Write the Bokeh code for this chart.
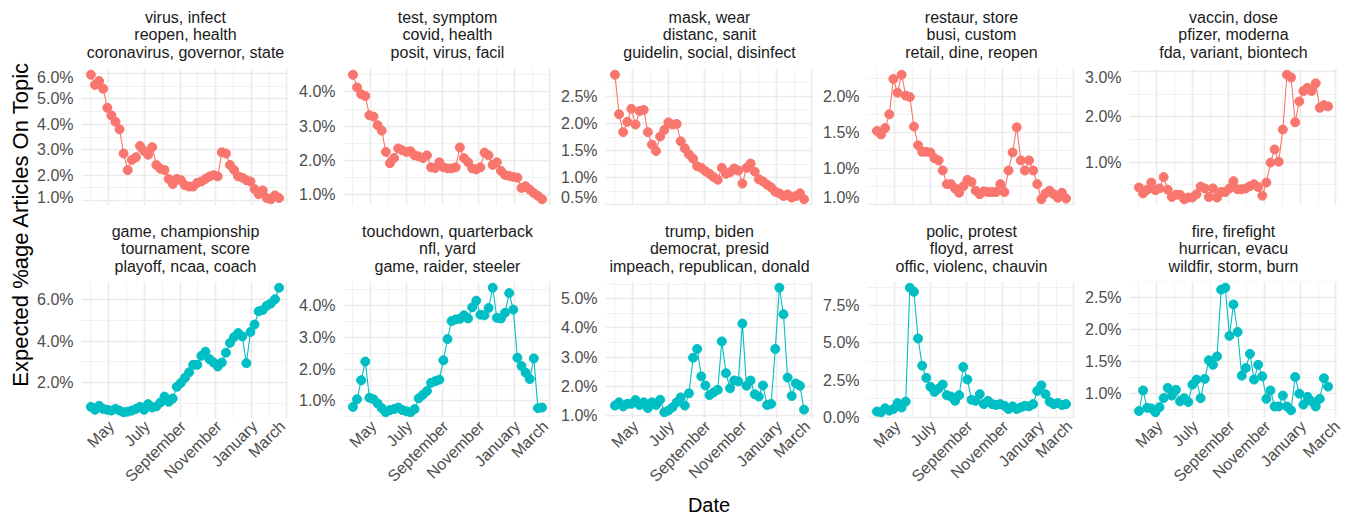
import pandas as pd
from math import pi
from bokeh.plotting import figure
from bokeh.layouts import row, column
from bokeh.models import ColumnDataSource, Range1d, FixedTicker, CustomJSTickFormatter, Label
from bokeh.embed import file_html
from bokeh.resources import INLINE

FONT = "Liberation Sans"
RED = "#F8766D"
TEAL = "#00BFC4"

# ---------------- data ----------------
start_date = "2020-04-01"
n_weeks = 47

titles = [
    ["virus, infect", "reopen, health", "coronavirus, governor, state"],
    ["test, symptom", "covid, health", "posit, virus, facil"],
    ["mask, wear", "distanc, sanit", "guidelin, social, disinfect"],
    ["restaur, store", "busi, custom", "retail, dine, reopen"],
    ["vaccin, dose", "pfizer, moderna", "fda, variant, biontech"],
    ["game, championship", "tournament, score", "playoff, ncaa, coach"],
    ["touchdown, quarterback", "nfl, yard", "game, raider, steeler"],
    ["trump, biden", "democrat, presid", "impeach, republican, donald"],
    ["polic, protest", "floyd, arrest", "offic, violenc, chauvin"],
    ["fire, firefight", "hurrican, evacu", "wildfir, storm, burn"],
]

virus = [5.95,5.55,5.70,5.40,4.65,4.35,4.10,3.80,2.85,2.20,2.60,2.70,3.15,2.95,2.80,3.10,2.40,2.25,2.20,1.85,
         1.65,1.85,1.80,1.60,1.55,1.55,1.70,1.75,1.85,1.95,2.00,1.95,2.90,2.85,2.40,2.20,1.95,1.90,1.80,1.75,
         1.45,1.25,1.40,1.10,1.05,1.20,1.10]
test = [4.50,4.13,3.93,3.88,3.32,3.28,3.03,2.87,2.25,1.92,2.07,2.35,2.30,2.25,2.27,2.15,2.12,2.07,2.15,1.80,
        1.78,1.95,1.80,1.77,1.77,1.80,2.38,2.07,1.95,1.77,1.74,1.80,2.23,2.15,1.87,1.95,1.70,1.58,1.55,1.52,
        1.50,1.20,1.25,1.15,1.05,0.97,0.87]
mask = [2.90,2.17,1.84,2.03,2.27,1.98,2.23,2.25,1.84,1.61,1.49,1.76,1.88,2.02,1.98,1.99,1.67,1.54,1.43,1.35,
        1.21,1.18,1.12,1.07,1.01,0.96,1.18,1.07,1.10,1.17,1.13,0.89,1.18,1.26,1.11,0.97,0.93,0.87,0.82,0.74,
        0.71,0.66,0.69,0.63,0.66,0.71,0.60]
restaur = [1.52,1.47,1.56,1.75,2.24,2.05,2.30,2.01,1.99,1.58,1.32,1.23,1.23,1.22,1.14,1.11,0.97,0.78,0.78,0.72,
           0.66,0.75,0.84,0.81,0.69,0.64,0.68,0.67,0.67,0.67,0.78,0.67,0.97,1.22,1.57,1.11,0.97,1.11,0.97,0.78,
           0.57,0.65,0.69,0.64,0.59,0.66,0.58]
vaccin = [0.44,0.31,0.39,0.55,0.38,0.42,0.67,0.39,0.23,0.28,0.28,0.18,0.22,0.22,0.29,0.46,0.42,0.23,0.42,0.22,
          0.34,0.34,0.42,0.58,0.40,0.40,0.42,0.47,0.51,0.45,0.26,0.55,0.99,1.28,1.01,1.72,2.93,2.87,1.88,2.34,
          2.57,2.64,2.57,2.74,2.20,2.26,2.23]
game = [0.85,0.71,0.90,0.75,0.71,0.67,0.75,0.67,0.59,0.62,0.67,0.75,0.85,0.71,0.98,0.82,0.87,1.06,1.34,1.09,
        1.25,1.81,2.00,2.24,2.50,2.86,2.86,3.29,3.49,3.13,2.97,2.78,2.97,3.44,3.91,4.19,4.38,4.22,2.94,4.43,
        4.79,5.42,5.48,5.69,5.80,6.00,6.55]
touchdown = [0.81,1.05,1.65,2.24,1.10,1.05,0.92,0.77,0.64,0.71,0.74,0.79,0.71,0.67,0.64,0.74,1.08,1.19,1.31,1.57,
             1.62,1.67,2.28,2.95,3.52,3.57,3.59,3.70,3.60,3.95,4.16,3.72,3.70,3.93,4.57,3.62,3.60,3.78,4.40,3.88,
             2.36,2.10,1.89,1.69,2.34,0.77,0.79]
trump = [1.34,1.45,1.31,1.40,1.40,1.53,1.36,1.45,1.25,1.45,1.36,1.54,1.11,1.17,1.28,1.45,1.62,1.34,1.76,2.98,
         3.28,2.34,2.03,1.70,1.79,1.88,3.54,2.45,1.93,2.20,2.17,4.15,2.02,2.20,1.73,1.65,2.03,1.36,1.40,3.28,
         5.38,4.47,2.30,1.67,2.10,2.02,1.20]
polic = [0.38,0.33,0.60,0.44,0.55,0.95,0.65,1.05,8.72,8.45,5.30,3.47,2.65,2.05,1.70,1.92,2.20,1.48,1.39,1.10,
         1.48,3.38,2.54,1.17,1.10,1.55,0.88,1.10,0.88,0.82,0.88,0.77,0.55,0.73,0.55,0.66,0.77,0.73,0.88,1.77,
         2.14,1.55,1.04,0.88,0.95,0.82,0.88]
fire = [0.73,1.05,0.78,0.77,0.71,0.79,0.93,1.09,0.97,1.06,0.88,0.93,0.87,1.14,1.22,0.93,1.23,1.52,1.45,1.58,
        2.62,2.65,1.90,2.39,1.96,1.28,1.40,1.62,1.22,1.45,1.27,0.92,1.05,0.80,0.80,0.97,0.80,0.74,1.26,1.00,
        0.83,0.95,0.88,0.80,0.92,1.24,1.11]

series = [virus, test, mask, restaur, vaccin, game, touchdown, trump, polic, fire]

ytick_values = [
    [1.0, 2.0, 3.0, 4.0, 5.0, 6.0],
    [1.0, 2.0, 3.0, 4.0],
    [0.5, 1.0, 1.5, 2.0, 2.5],
    [0.5, 1.0, 1.5, 2.0],
    [1.0, 2.0, 3.0],
    [2.0, 4.0, 6.0],
    [1.0, 2.0, 3.0, 4.0],
    [1.0, 2.0, 3.0, 4.0, 5.0],
    [0.0, 2.5, 5.0, 7.5],
    [1.0, 1.5, 2.0, 2.5],
]
ytick_labels = [
    ["1.0%", "2.0%", "3.0%", "4.0%", "5.0%", "6.0%"],
    ["1.0%", "2.0%", "3.0%", "4.0%"],
    ["0.5%", "1.0%", "1.5%", "2.0%", "2.5%"],
    ["1.0%", "1.0%", "1.5%", "2.0%"],
    ["1.0%", "2.0%", "3.0%"],
    ["2.0%", "4.0%", "6.0%"],
    ["1.0%", "2.0%", "3.0%", "4.0%"],
    ["1.0%", "2.0%", "3.0%", "4.0%", "5.0%"],
    ["0.0%", "2.5%", "5.0%", "7.5%"],
    ["1.0%", "1.5%", "2.0%", "2.5%"],
]

xtick_dates = ["2020-05-01", "2020-07-01", "2020-09-01", "2020-11-01", "2021-01-01", "2021-03-01"]
xtick_labels = ["May", "July", "September", "November", "January", "March"]
xminor_dates = ["2020-04-01", "2020-06-01", "2020-08-01", "2020-10-01", "2020-12-01", "2021-02-01"]

x_title = "Date"
y_title = "Expected %age Articles On Topic"

# ---------------- layout constants ----------------
dates = pd.date_range(start_date, periods=n_weeks, freq="7D")
DAY_MS = 86400000.0
def ms(d):
    return pd.Timestamp(d).value / 1e6

xt = [ms(d) for d in xtick_dates]
xm = [ms(d) for d in xminor_dates]
x0, x1 = ms(dates[0]), ms(dates[-1])
xpad = (x1 - x0) * 0.05
x_end = x1 + xpad
# rotated labels: nudge the anchor a little to the right (kept inside the range)
xt_lab = [min(v + 5 * DAY_MS, x_end - 0.6 * DAY_MS) for v in xt]

YLAB_W = 34
FRAME_W = 208
left_borders = [46, 55, 54, 54, 54]
right_borders = [0, 0, 0, 0, 9]
STRIP1_H, TOP_FH = 68, 137
STRIP2_H, BOT_FH, BOT_BB = 76, 138, 74
TOTAL_H = 516
MAIN_H = STRIP1_H + TOP_FH + STRIP2_H + BOT_FH + BOT_BB
DATE_H = TOTAL_H - MAIN_H
TOTAL_W = YLAB_W + sum(left_borders) + 5 * FRAME_W + sum(right_borders)
STRIP_OFFS = [[51.3, 33.7, 16.3], [50.5, 33.0, 15.5]]   # line centres above the frame

fmt_x = CustomJSTickFormatter(args=dict(vals=xt_lab, labs=xtick_labels), code="""
const i = vals.findIndex(v => Math.abs(v - tick) < 1);
return i >= 0 ? labs[i] : '';
""")


def blank_fig(w, h):
    f = figure(width=w, height=h, output_backend="svg", toolbar_location=None, title=None,
               x_axis_location=None, y_axis_location=None,
               x_range=Range1d(0, 1), y_range=Range1d(0, 1),
               min_border_left=0, min_border_right=0, min_border_top=0, min_border_bottom=0)
    f.outline_line_color = None
    f.border_fill_color = "white"
    f.background_fill_color = "white"
    f.xgrid.visible = False
    f.ygrid.visible = False
    return f


def make_strip(i):
    # strip figure sits in the same column as its panel, so the layout aligns
    # its frame with the panel frame; labels are placed relative to that frame
    r, c = divmod(i, 5)
    width = left_borders[c] + FRAME_W + right_borders[c]
    h = STRIP1_H if r == 0 else STRIP2_H
    f = blank_fig(width, h)
    for line, off in zip(titles[i], STRIP_OFFS[r]):
        f.add_layout(Label(x=FRAME_W / 2, y=off, x_units="screen", y_units="screen",
                           text=line, text_align="center", text_baseline="middle",
                           text_font=FONT, text_font_size="16px", text_color="#1A1A1A"))
    return f


def make_panel(i):
    r, c = divmod(i, 5)
    vals = series[i]
    color = RED if r == 0 else TEAL
    lo, hi = min(vals), max(vals)
    ypad = (hi - lo) * 0.05
    width = left_borders[c] + FRAME_W + right_borders[c]
    height = TOP_FH if r == 0 else BOT_FH + BOT_BB
    p = figure(width=width, height=height, output_backend="svg", toolbar_location=None, title=None,
               x_axis_type="datetime", x_axis_location=(None if r == 0 else "below"),
               x_range=Range1d(x0 - xpad, x_end), y_range=Range1d(lo - ypad, hi + ypad),
               min_border_left=left_borders[c], min_border_right=right_borders[c],
               min_border_top=0, min_border_bottom=(0 if r == 0 else BOT_BB))
    p.outline_line_color = None
    p.background_fill_color = "white"
    p.border_fill_color = "white"

    # grids
    p.xgrid.ticker = FixedTicker(ticks=xt, minor_ticks=xm)
    yt = ytick_values[i]
    step = yt[1] - yt[0]
    ym = [yt[0] - step / 2] + [v + step / 2 for v in yt]
    p.ygrid.ticker = FixedTicker(ticks=yt, minor_ticks=ym)
    for g in (p.xgrid, p.ygrid):
        g.grid_line_color = "#EBEBEB"
        g.grid_line_width = 1.6
        g.minor_grid_line_color = "#EFEFEF"
        g.minor_grid_line_width = 0.9

    # y axis
    ya = p.yaxis[0]
    ya.ticker = FixedTicker(ticks=yt)
    ya.formatter = CustomJSTickFormatter(args=dict(vals=yt, labs=ytick_labels[i]), code="""
const k = vals.findIndex(v => Math.abs(v - tick) < 1e-9);
return k >= 0 ? labs[k] : '';
""")
    ya.axis_line_color = None
    ya.major_tick_line_color = None
    ya.minor_tick_line_color = None
    ya.major_tick_out = 0
    ya.major_tick_in = 0
    ya.major_label_standoff = 8
    ya.major_label_text_font = FONT
    ya.major_label_text_font_size = "16px"
    ya.major_label_text_color = "#4D4D4D"

    if r == 1:
        xa = p.xaxis[0]
        xa.ticker = FixedTicker(ticks=xt_lab)
        xa.formatter = fmt_x
        xa.axis_line_color = None
        xa.major_tick_line_color = None
        xa.minor_tick_line_color = None
        xa.major_tick_out = 0
        xa.major_tick_in = 0
        xa.major_label_standoff = 5
        xa.major_label_orientation = pi / 4
        xa.major_label_text_font = FONT
        xa.major_label_text_font_size = "16px"
        xa.major_label_text_color = "#4D4D4D"

    src = ColumnDataSource(dict(date=dates, value=vals))
    p.line("date", "value", source=src, line_color=color, line_width=1.1)
    p.scatter("date", "value", source=src, size=9, fill_color=color, line_color=color)
    return p


columns = []
for c in range(5):
    columns.append(column(make_strip(c), make_panel(c), make_strip(c + 5), make_panel(c + 5)))

ylab = blank_fig(YLAB_W, MAIN_H)
ylab.add_layout(Label(x=20, y=MAIN_H - 223.5, x_units="screen", y_units="screen",
                      text=y_title, angle=pi / 2,
                      text_align="center", text_baseline="middle", text_font=FONT,
                      text_font_size="22px", text_color="black"))

date_fig = blank_fig(TOTAL_W, DATE_H)
date_fig.add_layout(Label(x=708.5, y=DATE_H / 2, x_units="screen", y_units="screen",
                          text=x_title, text_align="center", text_baseline="middle",
                          text_font=FONT, text_font_size="20px", text_color="black"))

layout = column(row(ylab, *columns), date_fig)

open("out.html", "w").write(file_html(layout, INLINE))
